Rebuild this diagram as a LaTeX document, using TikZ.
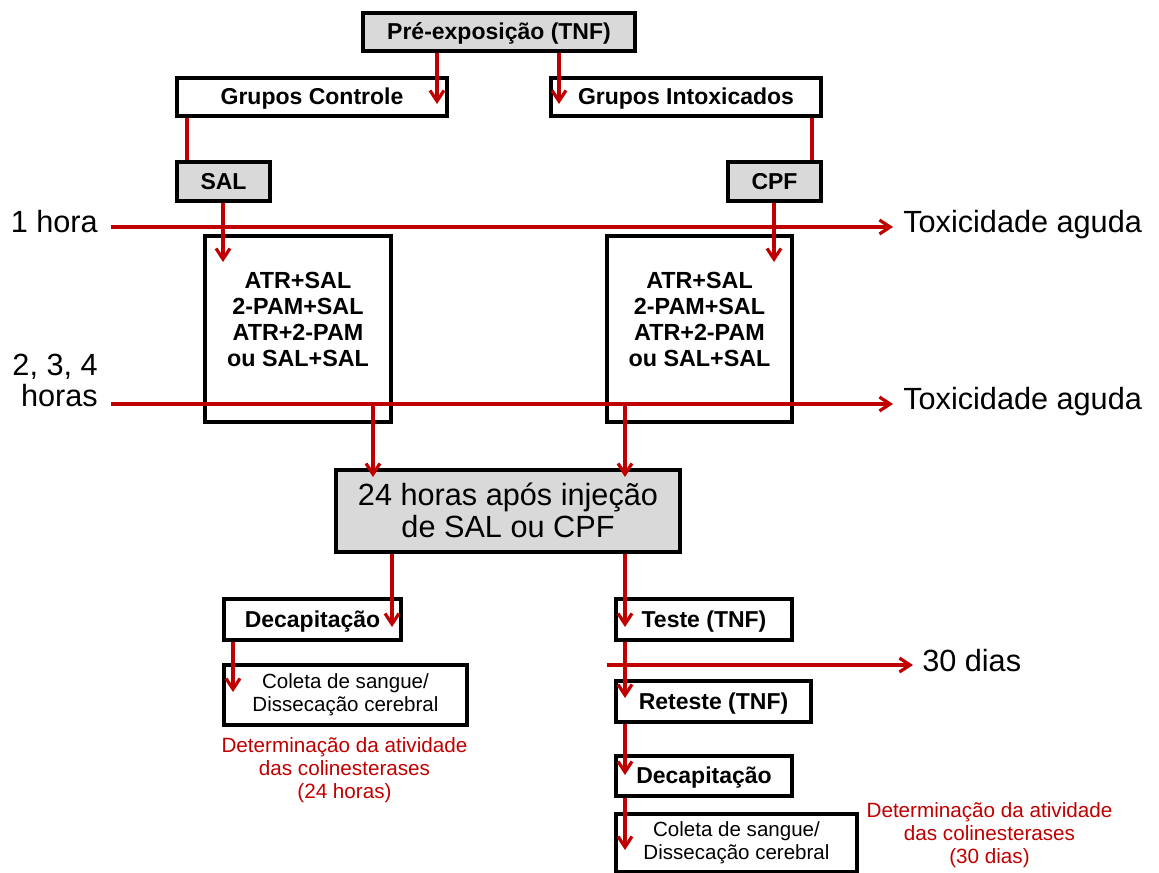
\documentclass[tikz,border=0pt]{standalone}
\usepackage{fontspec}
\setmainfont{Liberation Sans}
\usetikzlibrary{arrows.meta}
\definecolor{redline}{HTML}{C00000}
\definecolor{boxgray}{HTML}{D9D9D9}
\newcommand{\fsz}[2]{\fontsize{#1}{#2}\selectfont}
\begin{document}
\begin{tikzpicture}[x=0.75pt,y=-0.75pt,
  wh/.style 2 args={minimum width=#1*0.75pt, minimum height=#2*0.75pt},
  box/.style={draw=black, line width=2.5pt, inner sep=0pt, align=center,
    font=\bfseries\fsz{17.25pt}{20pt}, text height=12pt, text depth=0.7pt},
  gbox/.style={box, fill=boxgray},
  frame/.style={draw=black, line width=2.5pt, inner sep=0pt},
  txt/.style={inner sep=0pt, align=center},
  conn/.style={draw=redline, line width=2.4pt},
  arr/.style={conn, -{Straight Barb[length=8pt, width=10.5pt]}},
  lab/.style={inner sep=0pt, font=\fsz{23pt}{26pt}},
  redtxt/.style={txt, text=redline, font=\fsz{15.5pt}{17.25pt}},
  coltxt/.style={align=center, font=\fsz{15.4pt}{17.25pt}},
]
\useasboundingbox (0,0) rectangle (1159,872);

% boxes
\node[gbox, wh={272}{38}] (pre) at (499,32) {Pré-exposição (TNF)};
\node[box, wh={270}{38}] (gc) at (312,97) {Grupos Controle};
\node[box, wh={270}{38}] (gi) at (686,97) {Grupos Intoxicados};
\node[gbox, wh={93}{39}] (sal) at (223.5,181.5) {SAL};
\node[gbox, wh={93}{39}] (cpf) at (774.5,181.5) {CPF};

\node[frame, wh={186}{186}] (atrL) at (298,329) {};
\node[frame, wh={185}{186}] (atrR) at (699.5,329) {};
\node[txt, font=\bfseries\fsz{17.5pt}{19.5pt}] (atrLt) at (298,319.5) {ATR+SAL\\2-PAM+SAL\\ATR+2-PAM\\ou SAL+SAL};
\node[txt, font=\bfseries\fsz{17.5pt}{19.5pt}] (atrRt) at (699.5,319.5) {ATR+SAL\\2-PAM+SAL\\ATR+2-PAM\\ou SAL+SAL};

\node[frame, fill=boxgray, wh={344}{82}] (h24) at (508,511) {};
\node[txt, font=\fsz{23pt}{24pt}] (h24t) at (508,510) {24 horas após injeção\\de SAL ou CPF};

\node[box, wh={177}{41}] (decL) at (312.5,619.5) {Decapitação};
\node[frame, wh={243}{60}, coltxt] (colL) at (345.5,695) {Coleta de sangue/\\Dissecação cerebral};
\node[redtxt] (detL) at (344.5,770) {Determinação da atividade\\das colinesterases\\(24 horas)};

\node[box, wh={176}{41}] (teste) at (704,619.5) {Teste (TNF)};
\node[box, wh={195}{41}] (reteste) at (713.5,701.5) {Reteste (TNF)};
\node[box, wh={176}{40}] (decR) at (704,776) {Decapitação};
\node[frame, wh={241}{58}, coltxt] (colR) at (736.5,843) {Coleta de sangue/\\Dissecação cerebral};
\node[redtxt] (detR) at (989.5,835) {Determinação da atividade\\das colinesterases\\(30 dias)};

% side labels
\node[lab, anchor=base east] (h1) at (98,232) {1 hora};
\node[lab, anchor=base east] (h234a) at (98,375) {2, 3, 4};
\node[lab, anchor=base east] (h234b) at (98,406) {horas};
\node[lab, anchor=base west] (tox1) at (903,232) {Toxicidade aguda};
\node[lab, anchor=base west] (tox2) at (903,409) {Toxicidade aguda};
\node[lab, anchor=base west] (d30) at (922,671) {30 dias};

% connectors
\coordinate (t1) at (437,104); \draw[arr] (pre.south -| t1) -- (t1);
\coordinate (t2) at (559,104); \draw[arr] (pre.south -| t2) -- (t2);
\coordinate (c3) at (187,0); \draw[conn] (gc.south -| c3) -- (sal.north -| c3);
\coordinate (c4) at (812,0); \draw[conn] (gi.south -| c4) -- (cpf.north -| c4);
\coordinate (t5) at (223,262); \draw[arr] (sal.south -| t5) -- (t5);
\coordinate (t6) at (774,262); \draw[arr] (cpf.south -| t6) -- (t6);
\coordinate (l1s) at (111,227); \coordinate (l1e) at (893,227); \draw[arr] (l1s) -- (l1e);
\coordinate (l2s) at (111,404); \coordinate (l2e) at (893,404); \draw[arr] (l2s) -- (l2e);
\coordinate (b1) at (373,404); \coordinate (t7) at (373,477); \draw[arr] (b1) -- (t7);
\coordinate (b2) at (625,404); \coordinate (t8) at (625,477); \draw[arr] (b2) -- (t8);
\coordinate (t9) at (392,627); \draw[arr] (h24.south -| t9) -- (t9);
\coordinate (t10) at (625,627); \draw[arr] (h24.south -| t10) -- (t10);
\coordinate (t11) at (233,692); \draw[arr] (decL.south -| t11) -- (t11);
\coordinate (t12) at (625,698); \draw[arr] (teste.south -| t12) -- (t12);
\coordinate (l3s) at (607,665); \coordinate (l3e) at (913,665); \draw[arr] (l3s) -- (l3e);
\coordinate (t13) at (625,775); \draw[arr] (reteste.south -| t13) -- (t13);
\coordinate (t14) at (625,850); \draw[arr] (decR.south -| t14) -- (t14);
\end{tikzpicture}
\end{document}
